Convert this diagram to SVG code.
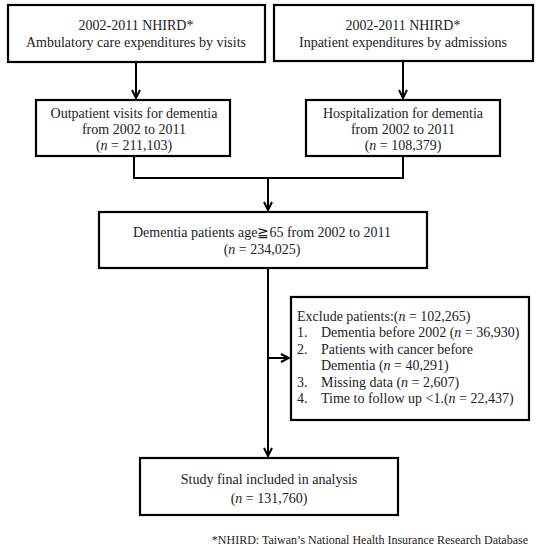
<svg xmlns="http://www.w3.org/2000/svg" width="536" height="550" viewBox="0 0 536 550">
<defs>
<style>
.box{fill:#fff;stroke:#000;stroke-width:2.2}
.t{font-family:"Liberation Serif","Times New Roman",serif;font-size:14px;fill:#222}
.c{text-anchor:middle}
.fn{font-family:"Liberation Serif","Times New Roman",serif;font-size:12px;fill:#222;text-anchor:end}
.ln{fill:none;stroke:#000;stroke-width:2}
</style>
<marker id="ah" viewBox="0 0 10 10" refX="9" refY="5" markerWidth="10" markerHeight="10" markerUnits="userSpaceOnUse" orient="auto">
<path d="M1,1 L9,5 L1,9" fill="none" stroke="#000" stroke-width="2"/>
</marker>
</defs>
<rect width="536" height="550" fill="#fff"/>
<g id="connectors">
<line class="ln" x1="136" y1="62" x2="136" y2="98" marker-end="url(#ah)"/>
<line class="ln" x1="403" y1="62" x2="403" y2="98" marker-end="url(#ah)"/>
<polyline class="ln" points="134,156 134,178 403,178 403,156"/>
<line class="ln" x1="268" y1="178" x2="268" y2="210" marker-end="url(#ah)"/>
<line class="ln" x1="268" y1="268" x2="268" y2="456" marker-end="url(#ah)"/>
<line class="ln" x1="268" y1="358" x2="289" y2="358" marker-end="url(#ah)"/>
</g>
<g id="n1">
<rect class="box" x="8" y="5" width="257" height="57"/>
<text class="t c" x="136" y="30">2002-2011 NHIRD*</text>
<text class="t c" x="136" y="47">Ambulatory care expenditures by visits</text>
</g>
<g id="n2">
<rect class="box" x="274" y="5" width="259" height="56"/>
<text class="t c" x="403" y="30">2002-2011 NHIRD*</text>
<text class="t c" x="403" y="47">Inpatient expenditures by admissions</text>
</g>
<g id="n3">
<rect class="box" x="36" y="100" width="194" height="56"/>
<text class="t c" x="134" y="118">Outpatient visits for dementia</text>
<text class="t c" x="134" y="134">from 2002 to 2011</text>
<text class="t c" x="134" y="150">(<tspan font-style="italic">n</tspan> = 211,103)</text>
</g>
<g id="n4">
<rect class="box" x="306" y="100" width="194" height="56"/>
<text class="t c" x="403" y="118">Hospitalization for dementia</text>
<text class="t c" x="403" y="134">from 2002 to 2011</text>
<text class="t c" x="403" y="150">(<tspan font-style="italic">n</tspan> = 108,379)</text>
</g>
<g id="n5">
<rect class="box" x="99" y="212" width="328" height="56"/>
<text class="t c" x="262" y="237">Dementia patients age≧65 from 2002 to 2011</text>
<text class="t c" x="262" y="254">(<tspan font-style="italic">n</tspan> = 234,025)</text>
</g>
<g id="n6">
<rect class="box" x="291" y="297" width="238" height="123"/>
<text class="t" x="297" y="321">Exclude patients:(<tspan font-style="italic">n</tspan> = 102,265)</text>
<text class="t" x="297" y="337">1.</text><text class="t" x="321" y="337">Dementia before 2002 (<tspan font-style="italic">n</tspan> = 36,930)</text>
<text class="t" x="297" y="354">2.</text><text class="t" x="321" y="354">Patients with cancer before</text>
<text class="t" x="321" y="370">Dementia (<tspan font-style="italic">n</tspan> = 40,291)</text>
<text class="t" x="297" y="387">3.</text><text class="t" x="321" y="387">Missing data (<tspan font-style="italic">n</tspan> = 2,607)</text>
<text class="t" x="297" y="403">4.</text><text class="t" x="321" y="403">Time to follow up &lt;1.(<tspan font-style="italic">n</tspan> = 22,437)</text>
</g>
<g id="n7">
<rect class="box" x="140" y="458" width="258" height="57"/>
<text class="t c" x="269" y="484">Study final included in analysis</text>
<text class="t c" x="269" y="503">(<tspan font-style="italic">n</tspan> = 131,760)</text>
</g>
<text class="fn" x="528" y="544">*NHIRD: Taiwan’s National Health Insurance Research Database</text>
</svg>
